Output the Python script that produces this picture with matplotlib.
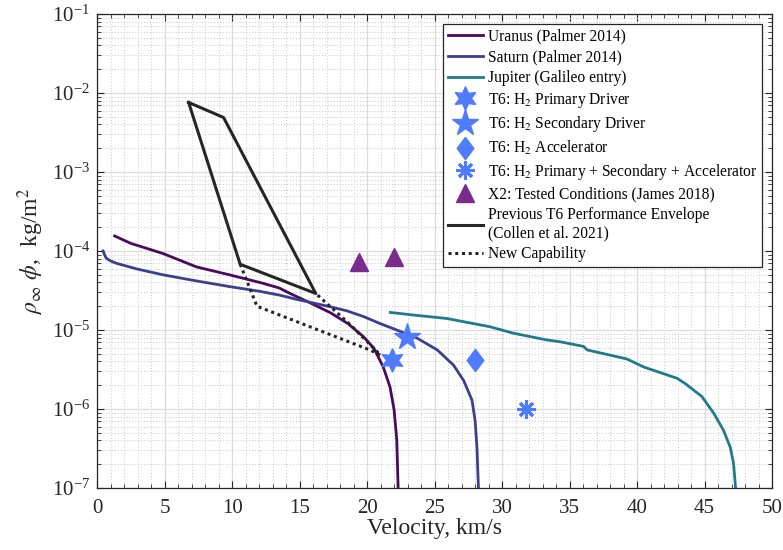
import numpy as np
import matplotlib
matplotlib.use("Agg")
import matplotlib.pyplot as plt
from matplotlib.ticker import LogLocator, NullFormatter, MultipleLocator

plt.rcParams["font.family"] = ["Liberation Serif", "DejaVu Serif"]
plt.rcParams["mathtext.fontset"] = "stix"

# trajectory curves: velocity (km/s) vs rho*phi (kg/m^2)
uranus_v = [1.3, 2.5, 4.88, 7.35, 9.8, 12.3, 13.5, 14.3, 15.8, 17.3, 18.6, 19.74, 20.5, 21.2, 21.7,
            22.0, 22.2, 22.3]
uranus_q = [1.55e-4, 1.25e-4, 9.3e-5, 6.3e-5, 5.0e-5, 3.9e-5, 3.4e-5, 2.9e-5, 2.2e-5, 1.65e-5, 1.2e-5,
            8.2e-6, 5.9e-6, 3.4e-6, 1.9e-6, 9.8e-7, 4.1e-7, 1e-7]

saturn_v = [0.44, 0.55, 0.68, 1.0, 1.42, 3.0, 4.88, 7.3, 9.8, 12.0, 13.5, 14.76, 16.0, 17.27, 18.5,
            19.74, 21.0, 22.2, 23.7, 25.2, 26.4, 27.15, 27.77, 28.0, 28.14, 28.25]
saturn_q = [1.0e-4, 9.0e-5, 8.1e-5, 7.5e-5, 7.0e-5, 5.9e-5, 5.0e-5, 4.2e-5, 3.55e-5, 3.1e-5, 2.77e-5,
            2.45e-5, 2.2e-5, 1.97e-5, 1.75e-5, 1.48e-5, 1.2e-5, 1.0e-5, 7.9e-6, 5.6e-6, 3.6e-6, 2.3e-6,
            1.3e-6, 7.2e-7, 3.3e-7, 1e-7]

jupiter_v = [21.72, 23.4, 25.9, 29.1, 30.85, 33.3, 34.3, 36.04, 36.3, 39.25, 40.5, 42.96, 43.57, 44.8,
             45.67, 46.4, 46.9, 47.15, 47.3]
jupiter_q = [1.67e-5, 1.55e-5, 1.4e-5, 1.1e-5, 9.1e-6, 7.5e-6, 7.1e-6, 6.2e-6, 5.6e-6, 4.3e-6, 3.4e-6,
             2.45e-6, 2.1e-6, 1.44e-6, 8.9e-7, 5.4e-7, 3.3e-7, 2.05e-7, 1e-7]

# T6 envelope (closed) and extended capability
env_v = [6.78, 9.37, 16.2, 10.6, 6.78]
env_q = [7.6e-3, 4.9e-3, 2.9e-5, 6.8e-5, 7.6e-3]
new_v = [10.6, 11.47, 11.84, 20.2, 21.0, 18.8, 16.2]
new_q = [6.8e-5, 2.9e-5, 2.0e-5, 5.6e-6, 4.8e-6, 1.15e-5, 2.9e-5]

# test conditions
primary = (21.84, 4.2e-6)
secondary = (22.95, 8.2e-6)
accel = (28.0, 4.2e-6)
combined = (31.8, 1.0e-6)
x2_v = [19.4, 22.0]
x2_q = [7.3e-5, 8.3e-5]

c_uranus = "#4a0a5c"
c_saturn = "#3d3f8c"
c_jupiter = "#1f7b8c"
c_t6 = "#4f7cff"
c_x2 = "#7b2a8e"
c_env = "#262626"

diamond = [(0, 1), (0.75, 0), (0, -1), (-0.75, 0), (0, 1)]

fig = plt.figure(figsize=(7.83, 5.5), dpi=100)
ax = fig.add_axes([0.124, 0.1127, 0.862, 0.8618])

ax.plot(uranus_v, uranus_q, color=c_uranus, lw=2, label="Uranus (Palmer 2014)")
ax.plot(saturn_v, saturn_q, color=c_saturn, lw=2, label="Saturn (Palmer 2014)")
ax.plot(jupiter_v, jupiter_q, color=c_jupiter, lw=2, label="Jupiter (Galileo entry)")
ax.plot(*primary, ls="none", marker=(6, 1, 0), ms=17, color=c_t6, label="T6: H$_2$ Primary Driver")
ax.plot(*secondary, ls="none", marker="*", ms=20, color=c_t6, label="T6: H$_2$ Secondary Driver")
ax.plot(*accel, ls="none", marker=diamond, ms=16, color=c_t6, label="T6: H$_2$ Accelerator")
ax.plot(*combined, ls="none", marker=(8, 2, 0), ms=13, mew=2.2, color=c_t6,
        label="T6: H$_2$ Primary + Secondary + Accelerator")
ax.plot(x2_v, x2_q, ls="none", marker="^", ms=13, color=c_x2, label="X2: Tested Conditions (James 2018)")
ax.plot(env_v, env_q, color=c_env, lw=2.2, label="Previous T6 Performance Envelope\n(Collen et al. 2021)")
ax.plot(new_v, new_q, color=c_env, lw=2.2, ls=(0, (1, 1.2)), label="New Capability")

ax.set_yscale("log")
ax.set_xlim(0, 50)
ax.set_ylim(1e-7, 1e-1)
ax.xaxis.set_major_locator(MultipleLocator(5))
ax.xaxis.set_minor_locator(MultipleLocator(1))
ax.yaxis.set_major_locator(LogLocator(base=10, numticks=10))
ax.yaxis.set_minor_locator(LogLocator(base=10, subs=np.arange(2, 10), numticks=20))
ax.yaxis.set_minor_formatter(NullFormatter())

ax.grid(which="major", color="#dcdcdc", lw=0.9, ls="-")
ax.grid(which="minor", color="#c8c8c8", lw=0.7, ls=(0, (1, 2)))
ax.set_axisbelow(True)
ax.tick_params(which="both", direction="in", top=True, right=True, colors="#262626", labelsize=15)
ax.tick_params(axis="x", which="minor", length=0)
ax.tick_params(which="major", length=5)
ax.tick_params(which="minor", length=3)
ax.tick_params(axis="x", which="major", pad=8)
ax.tick_params(axis="y", which="major", pad=5)
for s in ax.spines.values():
    s.set_color("#262626")
    s.set_linewidth(0.9)

ax.set_xlabel("Velocity, km/s", fontsize=17, color="#262626", labelpad=0)
ax.set_ylabel(r"$\rho_\infty\ \phi$,  kg/m$^2$", fontsize=17, color="#262626")

leg = ax.legend(loc="upper right", fontsize=11.2, frameon=True, fancybox=False, framealpha=1,
                edgecolor="#262626", handlelength=2.3, handletextpad=0.3, labelspacing=0.3,
                borderaxespad=0.65, borderpad=0.3)
leg.get_frame().set_linewidth(0.9)

fig.savefig("out.png", dpi=100)
